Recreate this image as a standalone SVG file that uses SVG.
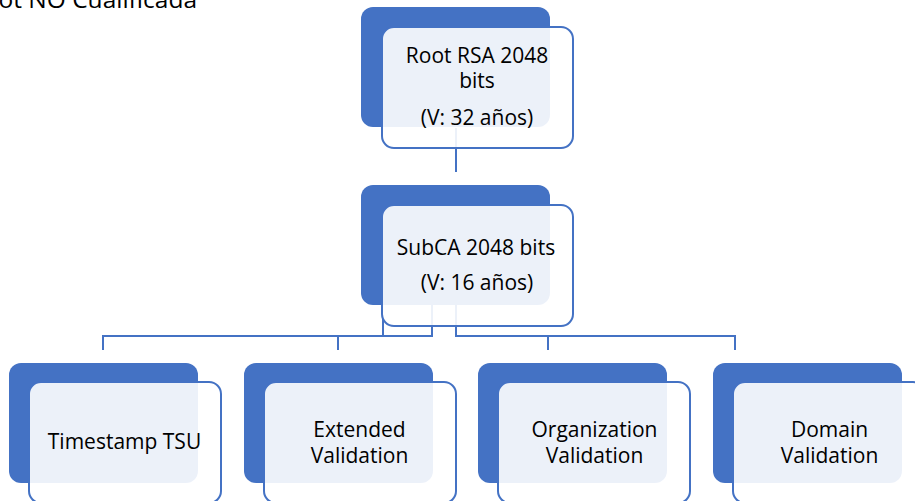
<svg xmlns="http://www.w3.org/2000/svg" width="915" height="501" viewBox="0 0 915 501">
<style>
.back{fill:#4472C4;}
.front{fill:#FFFFFF;fill-opacity:0.9;stroke:#4472C4;stroke-width:2;}
.conn{fill:none;stroke:#4472C4;stroke-width:2;}
.t{font-family:"Open Sans","Liberation Sans",sans-serif;font-size:21px;fill:#000;text-anchor:middle;}
</style>
<rect width="915" height="501" fill="#FFFFFF"/>
<text class="t" x="197" y="8" style="text-anchor:end;font-size:24.5px">ot NO Cualificada</text>
<g id="connectors">
<path class="conn" d="M456,128 V172"/>
<path class="conn" d="M432,305 V336 H103 V350"/>
<path class="conn" d="M338,336 V350"/>
<path class="conn" d="M383,315 V336"/>
<path class="conn" d="M456,305 V336 H735 V350"/>
<path class="conn" d="M548,336 V350"/>
</g>
<g id="root">
<rect class="back" x="361" y="7" width="189" height="120" rx="12"/>
<rect class="front" x="382" y="27" width="191" height="121" rx="12"/>
<text class="t" x="477" y="63">Root RSA 2048</text>
<text class="t" x="477" y="88">bits</text>
<text class="t" x="477" y="125">(V: 32 años)</text>
</g>
<g id="subca">
<rect class="back" x="361" y="185" width="189" height="120" rx="12"/>
<rect class="front" x="382" y="205" width="191" height="121" rx="12"/>
<text class="t" x="476" y="255">SubCA 2048 bits</text>
<text class="t" x="477" y="290">(V: 16 años)</text>
</g>
<g id="timestamp">
<rect class="back" x="9" y="363" width="189" height="120" rx="12"/>
<rect class="front" x="29" y="382" width="192" height="121" rx="12"/>
<text class="t" x="124.5" y="449">Timestamp TSU</text>
</g>
<g id="extended">
<rect class="back" x="244" y="363" width="189" height="120" rx="12"/>
<rect class="front" x="264" y="382" width="192" height="121" rx="12"/>
<text class="t" x="359.5" y="437">Extended</text>
<text class="t" x="359.5" y="463">Validation</text>
</g>
<g id="organization">
<rect class="back" x="478" y="363" width="189" height="120" rx="12"/>
<rect class="front" x="498" y="382" width="192" height="121" rx="12"/>
<text class="t" x="594.5" y="437">Organization</text>
<text class="t" x="594.5" y="463">Validation</text>
</g>
<g id="domain">
<rect class="back" x="713" y="363" width="189" height="120" rx="12"/>
<rect class="front" x="733" y="382" width="192" height="121" rx="12"/>
<text class="t" x="829.5" y="437">Domain</text>
<text class="t" x="829.5" y="463">Validation</text>
</g>
</svg>
